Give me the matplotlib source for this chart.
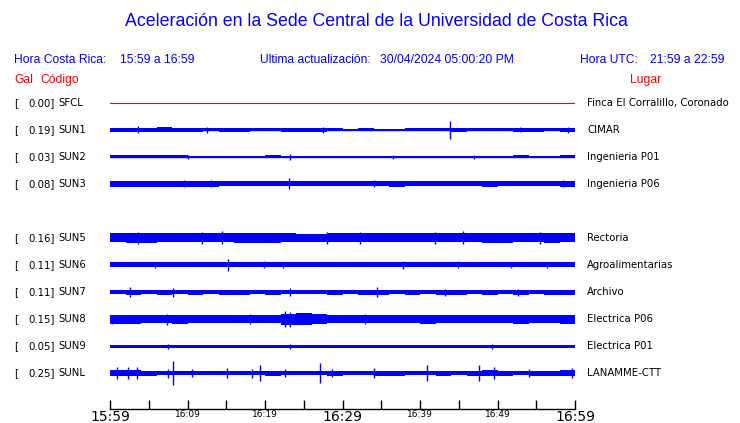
import matplotlib
matplotlib.use("Agg")
import matplotlib.pyplot as plt
import matplotlib.transforms as mtransforms
import numpy as np

# Stations, peak values (Gal) and site names
codes = ["SFCL", "SUN1", "SUN2", "SUN3", "SUN5", "SUN6", "SUN7", "SUN8", "SUN9", "SUNL"]
gal = ["0.00", "0.19", "0.03", "0.08", "0.16", "0.11", "0.11", "0.15", "0.05", "0.25"]
sites = ["Finca El Corralillo, Coronado", "CIMAR", "Ingenieria P01", "Ingenieria P06",
         "Rectoria", "Agroalimentarias", "Archivo", "Electrica P06", "Electrica P01",
         "LANAMME-CTT"]
rows = [0, 1, 2, 3, 5, 6, 7, 8, 9, 10]   # SUN4 slot left empty

# Envelope half-heights (trace units, 27 = one row), one value per 2-minute bin
env_sun1 = [2, 2, 2, 2.5, 2, 2, 1.5, 2, 2, 1.5, 1.5, 2, 2, 2, 1.5, 1, 1.5, 1, 1, 1.5, 1.5, 1.5, 2, 1.5, 1.5, 1.5, 2, 2, 1.5, 2]
env_sun2 = [1.5, 1.5, 1.5, 1.5, 1.5, 1, 1, 0.5, 1, 1, 1.5, 1, 1, 0.5, 1, 0.5, 0.5, 1, 0.5, 0.5, 1, 1, 0.5, 1, 1, 1, 1.5, 1, 1, 1.5]
env_sun3 = [3, 3, 3, 3, 3, 3, 3, 2.5, 2.5, 2.5, 2.5, 2.5, 2.5, 2.5, 2.5, 2.5, 2.5, 2.5, 3, 2.5, 2.5, 2.5, 2.5, 2.5, 3, 2.5, 2.5, 2.5, 2.5, 3]
env_sun5 = [4.5, 5, 5, 4.5, 4.5, 4.5, 4.5, 4.5, 5, 5, 5, 4.5, 4, 4, 4.5, 4.5, 4.5, 4.5, 4.5, 4.5, 4.5, 4.5, 4.5, 4.5, 5, 5, 4.5, 4.5, 5, 4.5]
env_sun6 = [2.5, 2.5, 2.5, 2.5, 2.5, 2.5, 2.5, 2.5, 2.5, 2.5, 2.5, 2.5, 2.5, 2.5, 2.5, 2.5, 2.5, 2.5, 2.5, 2.5, 2.5, 2.5, 2.5, 2.5, 2.5, 2.5, 2.5, 2.5, 2.5, 2.5]
env_sun7 = [2, 2.5, 2, 2.5, 2, 2.5, 2, 2.5, 2.5, 2, 2.5, 2, 2, 2, 2.5, 2, 2.5, 2.5, 2, 2.5, 2, 2.5, 2.5, 2, 2.5, 2, 2.5, 2, 2.5, 2.5]
env_sun8 = [4.5, 4.5, 4, 4, 4.5, 4, 4, 4, 4, 4, 4, 5.5, 6, 5, 4, 4, 4, 4, 4, 4, 4.5, 4, 4, 4, 4, 4, 4.5, 4, 4, 4.5]
env_sun9 = [1.5, 1.5, 1.5, 1.5, 1.5, 1.5, 1.5, 1.5, 1.5, 1.5, 1.5, 1.5, 1.5, 1.5, 1.5, 1.5, 1.5, 1.5, 1.5, 1.5, 1.5, 1.5, 1.5, 1.5, 1.5, 1.5, 1.5, 1.5, 1.5, 1.5]
env_sunl = [3, 3, 2.5, 2, 2, 2, 2, 2, 2, 2, 2.5, 2, 2, 2, 2.5, 2, 2, 2.5, 2.5, 2, 2, 2.5, 2, 2.5, 3, 2.5, 2, 2.5, 2.5, 3]

# Spikes: (minute after 15:59, half-height)
spk_sun1 = [(3.6, 3.5), (12.5, 3), (27.5, 3), (43.9, 9), (52.9, 2.5), (59.1, 3)]
spk_sun2 = [(23.2, 3), (10.0, 2), (36.5, 2), (47.0, 2)]
spk_sun3 = [(23.1, 5.5), (9.5, 3.5), (13.0, 3.5), (34.0, 3.5), (58.5, 3.5)]
spk_sun5 = [(3.6, 6), (11.9, 6), (14.5, 6.5), (28.0, 6), (32.3, 6), (41.9, 6), (45.5, 6.5), (55.5, 6)]
spk_sun6 = [(5.8, 3), (15.2, 6), (19.9, 3.5), (22.3, 3), (37.8, 4), (44.9, 3.5), (51.7, 3), (56.4, 3)]
spk_sun7 = [(2.6, 5), (8.1, 4.5), (23.2, 4), (34.4, 5), (43.2, 3.5), (52.6, 3.5)]
spk_sun8 = [(0.3, 4.5), (7.4, 5.5), (18.0, 5), (22.6, 8), (23.2, 7.5), (32.9, 5)]
spk_sun9 = [(7.5, 2.5), (23.2, 2.5), (49.3, 2.5)]
spk_sunl = [(0.9, 6), (2.3, 6), (3.5, 6), (7.5, 4.5), (8.1, 12), (10.6, 4), (15.1, 5), (18.3, 4.5),
            (19.4, 8), (22.6, 4), (27.1, 10), (28.6, 4), (34.1, 5), (40.9, 8), (47.6, 8),
            (49.5, 6), (54.1, 4), (59.6, 5)]

envelopes = [None, env_sun1, env_sun2, env_sun3, env_sun5, env_sun6, env_sun7, env_sun8, env_sun9, env_sunl]
spikes = [[], spk_sun1, spk_sun2, spk_sun3, spk_sun5, spk_sun6, spk_sun7, spk_sun8, spk_sun9, spk_sunl]

tick_min = list(range(0, 61, 5))
tick_lbl = ["15:59", "", "16:09", "", "16:19", "", "16:29", "", "16:39", "", "16:49", "", "16:59"]
big_lbl = ["15:59", "16:29", "16:59"]

W, H = 740, 423
fig = plt.figure(figsize=(7.4, 4.23), dpi=100)
ax = fig.add_axes([110 / W, (H - 409) / H, 465 / W, (409 - 90) / H])
ax.set_xlim(0, 60)
ax.set_ylim(11.333, -0.481)
ax.patch.set_alpha(0)

scale = 1 / 27.0
edges = np.arange(0, 61, 2)
for code, row, env, spk in zip(codes, rows, envelopes, spikes):
    if env is None:
        ax.plot([0, 60], [row, row], color="red", lw=0.8)
        continue
    e = np.array(env + [env[-1]]) * scale
    ax.fill_between(edges, row - e, row + e, step="post", color="blue", lw=0)
    ax.plot([0, 60], [row, row], color="blue", lw=1)
    for t, a in spk:
        ax.vlines(t, row - a * scale, row + a * scale, color="blue", lw=1)

for s in ["top", "left", "right"]:
    ax.spines[s].set_visible(False)
ax.spines["bottom"].set_linewidth(1.0)
ax.set_yticks([])
ax.set_xticks(tick_min)
ax.set_xticklabels(tick_lbl)
ax.tick_params(axis="x", direction="in", length=6.5, width=1, pad=1)
for lab in ax.get_xticklabels():
    if lab.get_text() in big_lbl:
        lab.set_fontsize(10)
    else:
        lab.set_fontsize(6.5)

# Row labels
fs = 7.3
tr = mtransforms.blended_transform_factory(fig.transFigure, ax.transData)
for code, g, site, row in zip(codes, gal, sites, rows):
    ax.text(14 / W, row, "[", transform=tr, fontsize=fs, va="center", ha="left")
    ax.text(55 / W, row, g + "]", transform=tr, fontsize=fs, va="center", ha="right")
    ax.text(58 / W, row, code, transform=tr, fontsize=fs, va="center", ha="left")
    ax.text(587 / W, row, site, transform=tr, fontsize=fs, va="center", ha="left")

# Header
hf = "Liberation Sans"
hs = 8.7
fig.text(376 / W, 1 - 22 / H, "Aceleración en la Sede Central de la Universidad de Costa Rica",
         ha="center", va="center", color="blue", fontsize=12.8, family=hf)
y2 = 1 - 60 / H
fig.text(14 / W, y2, "Hora Costa Rica:", color="blue", fontsize=hs, family=hf, va="center")
fig.text(120 / W, y2, "15:59 a 16:59", color="blue", fontsize=hs, family=hf, va="center")
fig.text(260 / W, y2, "Ultima actualización:", color="blue", fontsize=hs, family=hf, va="center")
fig.text(380 / W, y2, "30/04/2024 05:00:20 PM", color="blue", fontsize=hs, family=hf, va="center")
fig.text(580 / W, y2, "Hora UTC:", color="blue", fontsize=hs, family=hf, va="center")
fig.text(650 / W, y2, "21:59 a 22:59", color="blue", fontsize=hs, family=hf, va="center")
y3 = 1 - 80 / H
fig.text(14 / W, y3, "Gal", color="red", fontsize=hs, family=hf, va="center")
fig.text(40 / W, y3, "Código", color="red", fontsize=hs, family=hf, va="center")
fig.text(630 / W, y3, "Lugar", color="red", fontsize=hs, family=hf, va="center")

fig.savefig("out.png", dpi=100)
